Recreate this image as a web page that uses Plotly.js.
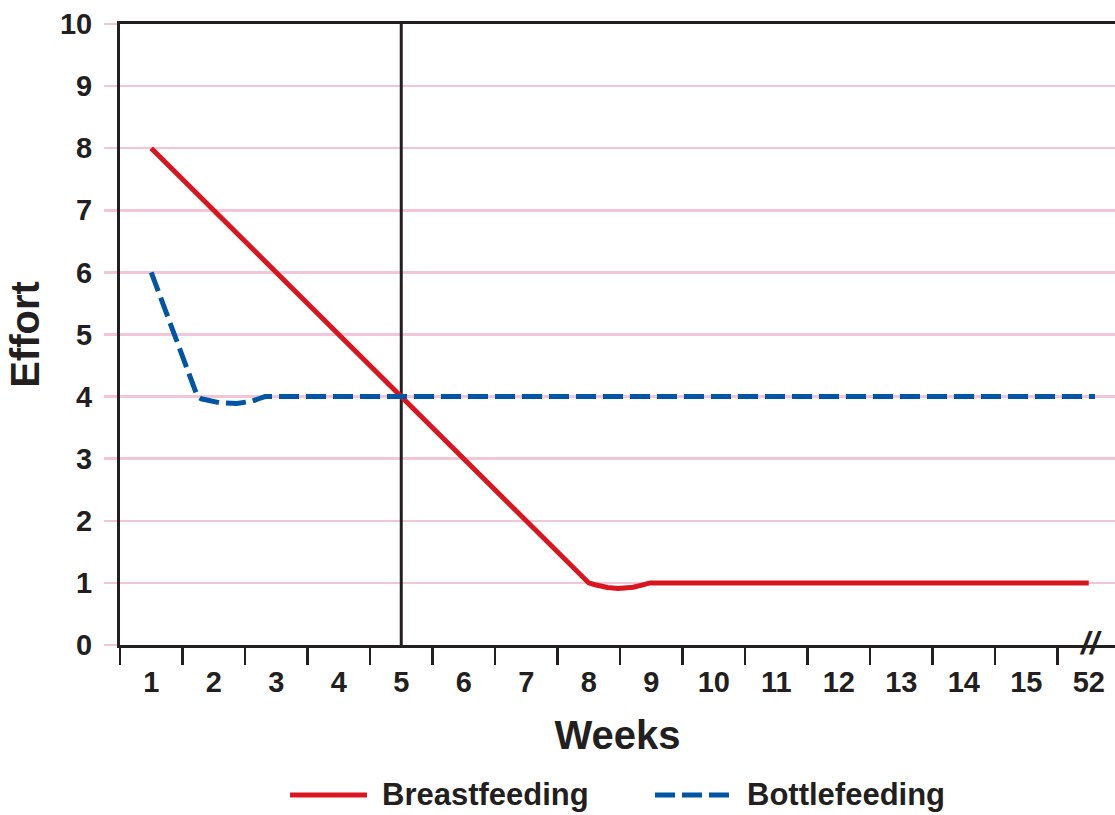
<!DOCTYPE html>
<html>
<head>
<meta charset="utf-8">
<script src="https://cdn.plot.ly/plotly-3.0.1.min.js"></script>
<style>
  html, body { margin: 0; padding: 0; background: #ffffff; }
  #chart { width: 1115px; height: 815px; }
</style>
</head>
<body>
<div id="chart"></div>
<script>
// ---- data ----
const weekPositions = [1, 2, 3, 4, 5, 6, 7, 8, 9, 10, 11, 12, 13, 14, 15, 16];
const weekLabels = ['1', '2', '3', '4', '5', '6', '7', '8', '9', '10', '11', '12', '13', '14', '15', '52'];
const weekBoundaries = [0.5, 1.5, 2.5, 3.5, 4.5, 5.5, 6.5, 7.5, 8.5, 9.5, 10.5, 11.5, 12.5, 13.5, 14.5, 15.5];
const effortTicks = [0, 1, 2, 3, 4, 5, 6, 7, 8, 9, 10];

const breastX = [1, 8, 8.1, 8.18, 8.3, 8.47, 8.6, 8.71, 8.85, 8.98, 16];
const breastY = [8, 1, 0.97, 0.95, 0.925, 0.91, 0.915, 0.93, 0.965, 1, 1];

const bottleX = [1, 1.74, 1.8, 1.89, 2.1, 2.37, 2.61, 2.72, 2.82, 16.1];
const bottleY = [6, 4, 3.965, 3.94, 3.9, 3.89, 3.925, 3.965, 4, 4];

const markerWeek = 5;
const seriesNames = ['Breastfeeding', 'Bottlefeeding'];

// ---- style ----
const RED = '#d9161f';
const BLUE = '#0055a5';
const INK = '#231f20';
const PINK = '#f3c5d9';
const FONT = 'Liberation Sans, Arial, sans-serif';

const traces = [
  {
    x: breastX, y: breastY, type: 'scatter', mode: 'lines', name: seriesNames[0],
    line: { color: RED, width: 5 }, showlegend: false
  },
  {
    x: bottleX, y: bottleY, type: 'scatter', mode: 'lines', name: seriesNames[1],
    line: { color: BLUE, width: 5, dash: '20px,7px' }, showlegend: false
  }
];

// legend geometry in paper coordinates
const legY = -0.2415;
const layout = {
  width: 1115, height: 815,
  margin: { l: 120, r: 0, t: 24, b: 170, pad: 0 },
  paper_bgcolor: '#ffffff', plot_bgcolor: '#ffffff',
  font: { family: FONT, color: INK, size: 29, weight: 700 },
  showlegend: false,
  xaxis: {
    range: [0.5, 16.42],
    tickmode: 'array', tickvals: weekPositions, ticktext: weekLabels,
    ticks: 'outside', ticklen: 4, tickcolor: 'rgba(0,0,0,0)', tickwidth: 1,
    ticklabelstandoff: 5,
    tickfont: { family: FONT, size: 29, color: INK, weight: 700 },
    showgrid: false, zeroline: false,
    showline: true, linecolor: INK, linewidth: 3, mirror: true,
    minor: { tickmode: 'array', tickvals: weekBoundaries, ticks: 'outside', ticklen: 17, tickwidth: 2.5, tickcolor: INK, showgrid: false },
    title: { text: 'Weeks', font: { family: FONT, size: 40, color: INK, weight: 700 }, standoff: 25 },
    automargin: false, fixedrange: true
  },
  yaxis: {
    range: [0, 10],
    tickmode: 'array', tickvals: effortTicks,
    ticks: 'outside', ticklen: 13, tickcolor: PINK, tickwidth: 2.5,
    ticklabelstandoff: 6,
    tickfont: { family: FONT, size: 29, color: INK, weight: 700 },
    showgrid: true, gridcolor: PINK, gridwidth: 2.5,
    zeroline: false,
    showline: true, linecolor: INK, linewidth: 3,
    title: { text: 'Effort', font: { family: FONT, size: 40, color: INK, weight: 700 }, standoff: 8 },
    automargin: false, fixedrange: true
  },
  shapes: [
    { type: 'line', xref: 'x', yref: 'y', x0: markerWeek, x1: markerWeek, y0: 0, y1: 10,
      line: { color: INK, width: 3 }, layer: 'between' },
    { type: 'line', xref: 'paper', yref: 'paper', x0: 0.1709, x1: 0.2482, y0: legY, y1: legY,
      line: { color: RED, width: 5 } },
    { type: 'line', xref: 'paper', yref: 'paper', x0: 0.5377, x1: 0.6181, y0: legY, y1: legY,
      line: { color: BLUE, width: 5, dash: '20px,7px' } }
  ],
  annotations: [
    { xref: 'paper', yref: 'paper', x: 0.2613, y: legY, xanchor: 'left', yanchor: 'middle',
      text: seriesNames[0], showarrow: false, font: { family: FONT, size: 31, color: INK, weight: 700 } },
    { xref: 'paper', yref: 'paper', x: 0.628, y: legY, xanchor: 'left', yanchor: 'middle',
      text: seriesNames[1], showarrow: false, font: { family: FONT, size: 31, color: INK, weight: 700 } },
    { xref: 'x', yref: 'y', x: 16.03, y: 0.04, xanchor: 'center', yanchor: 'middle',
      text: '<i>//</i>', showarrow: false, font: { family: FONT, size: 32, color: INK, weight: 700 } }
  ]
};

Plotly.newPlot('chart', traces, layout, { staticPlot: true, displayModeBar: false });
</script>
</body>
</html>
